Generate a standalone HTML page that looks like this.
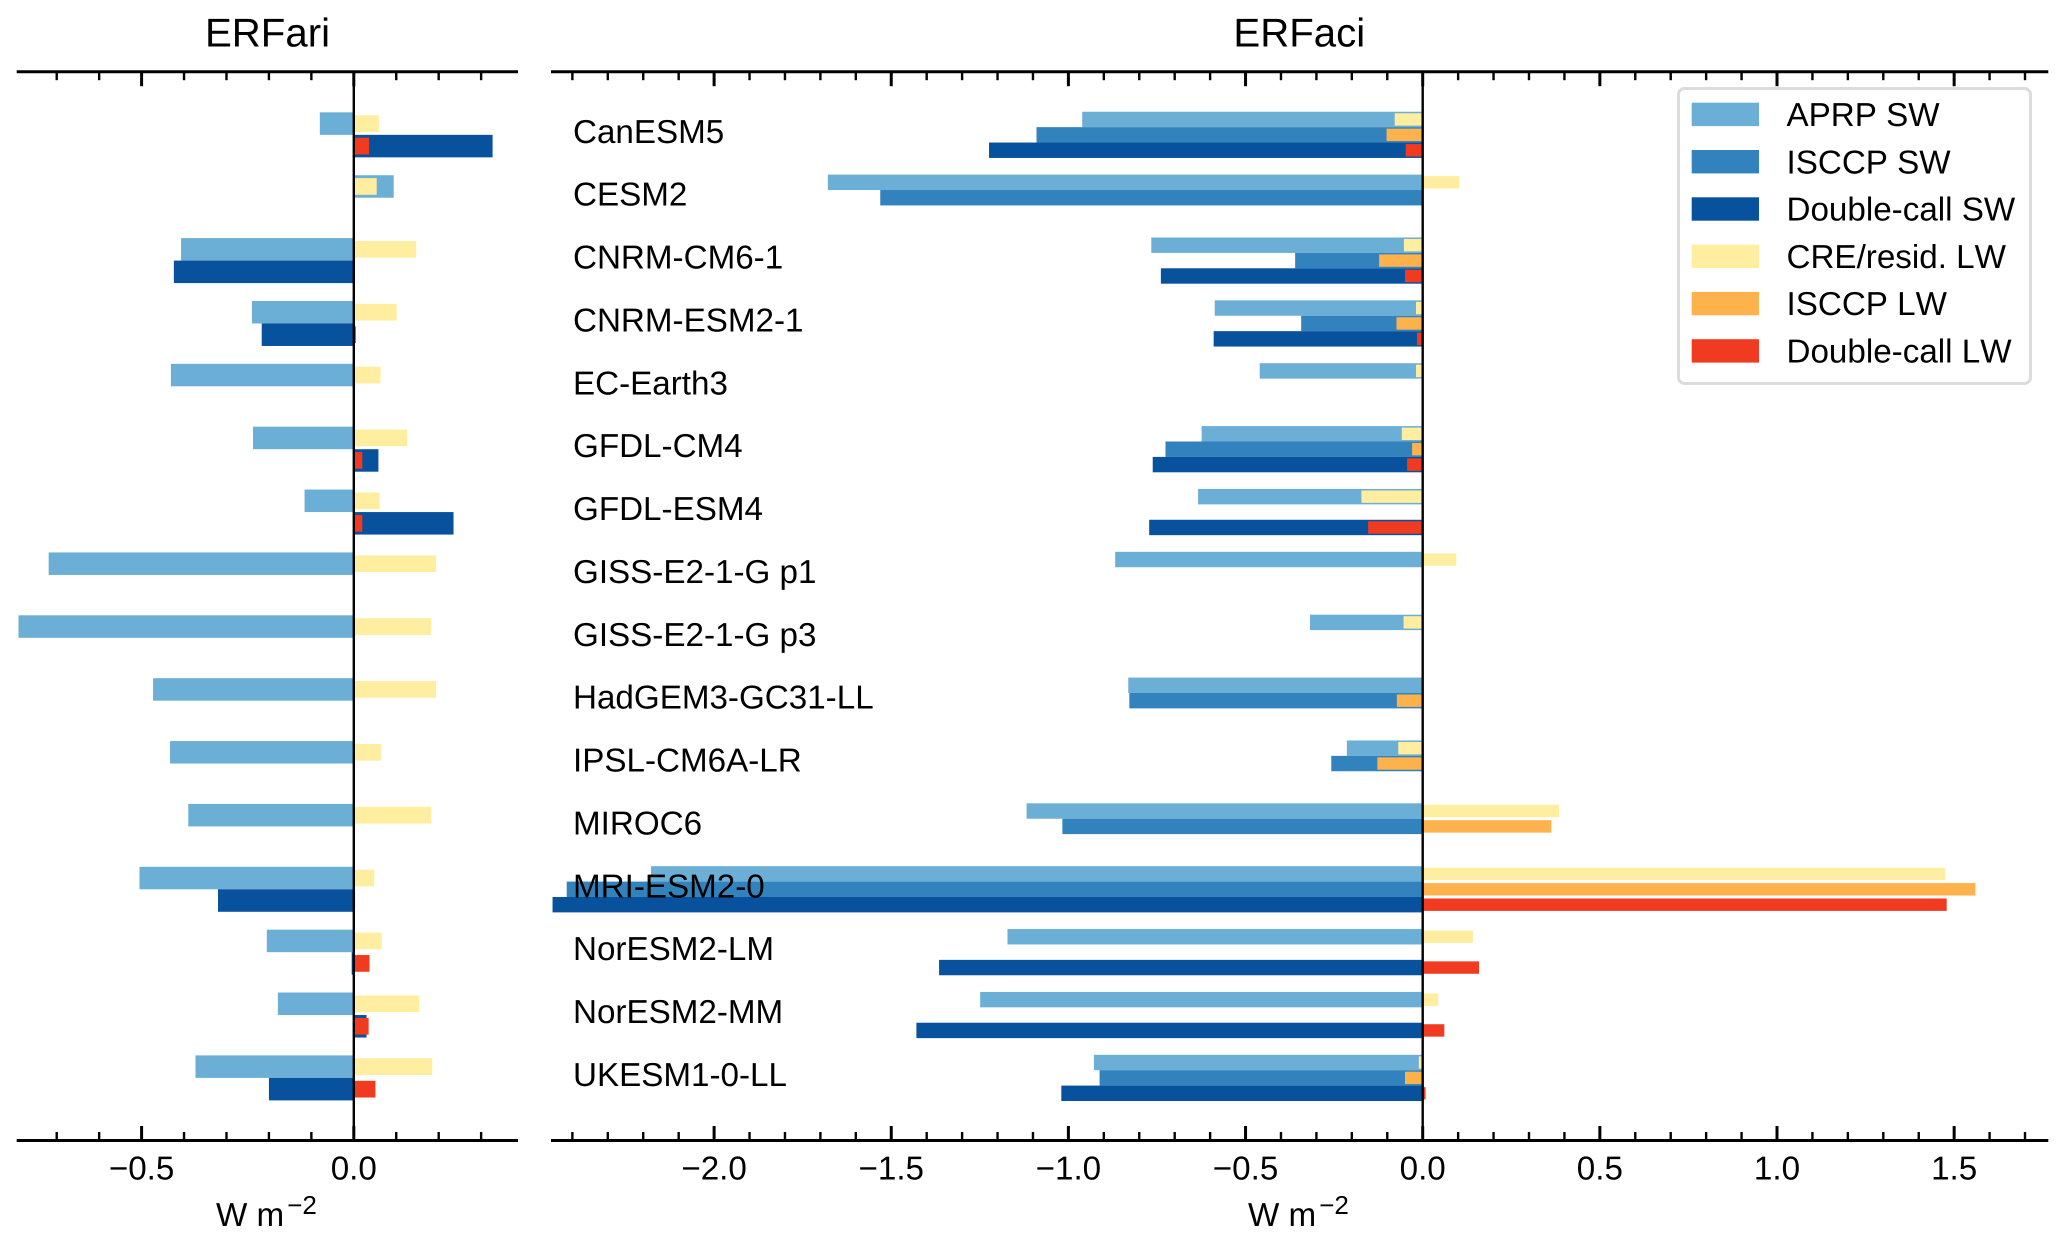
<!DOCTYPE html>
<html lang="en">
<head>
<meta charset="utf-8">
<title>ERFari and ERFaci by model</title>
<style>
html,body{margin:0;padding:0;background:#fff;}
svg{display:block;}
text{font-family:"Liberation Sans",Arial,sans-serif;fill:#000;text-rendering:geometricPrecision;font-kerning:none;}
</style>
</head>
<body>
<svg id="chart" xmlns="http://www.w3.org/2000/svg" width="2067" height="1244" viewBox="0 0 2067 1244">
  <rect x="0" y="0" width="2067" height="1244" fill="#fff"/>
  <g id="panel-ari"></g>
  <g id="panel-aci"></g>
  <text x="267.5" y="46.5" font-size="40.2" text-anchor="middle">ERFari</text>
  <text x="1299.3" y="46.5" font-size="40.2" text-anchor="middle">ERFaci</text>
  <text x="216" y="1226" font-size="33.2">W m<tspan font-size="26" dx="3" dy="-12">−2</tspan></text>
  <text x="1248" y="1226" font-size="33.2">W m<tspan font-size="26" dx="3" dy="-12">−2</tspan></text>
  <g>
    <rect x="1678.5" y="88.5" width="352" height="295" rx="6" ry="6" fill="#fff" stroke="#dcdcdc" stroke-width="3"/>
    <g>
      <rect x="1691.7" y="102.7" width="67.3" height="23.4" fill="#6BAED6"/>
      <text x="1786.5" y="126" font-size="33.2">APRP SW</text>
    </g>
    <g>
      <rect x="1691.7" y="150" width="67.3" height="23.4" fill="#3182BD"/>
      <text x="1786.5" y="173.3" font-size="33.2">ISCCP SW</text>
    </g>
    <g>
      <rect x="1691.7" y="197.3" width="67.3" height="23.4" fill="#08519C"/>
      <text x="1786.5" y="220.6" font-size="33.2">Double-call SW</text>
    </g>
    <g>
      <rect x="1691.7" y="244.6" width="67.3" height="23.4" fill="#FFEDA0"/>
      <text x="1786.5" y="267.9" font-size="33.2">CRE/resid. LW</text>
    </g>
    <g>
      <rect x="1691.7" y="291.9" width="67.3" height="23.4" fill="#FEB24C"/>
      <text x="1786.5" y="315.2" font-size="33.2">ISCCP LW</text>
    </g>
    <g>
      <rect x="1691.7" y="339.2" width="67.3" height="23.4" fill="#F03B20"/>
      <text x="1786.5" y="362.5" font-size="33.2">Double-call LW</text>
    </g>
  </g>
</svg>
<script>
const models = ["CanESM5","CESM2","CNRM-CM6-1","CNRM-ESM2-1","EC-Earth3","GFDL-CM4","GFDL-ESM4","GISS-E2-1-G p1","GISS-E2-1-G p3","HadGEM3-GC31-LL","IPSL-CM6A-LR","MIROC6","MRI-ESM2-0","NorESM2-LM","NorESM2-MM","UKESM1-0-LL"];

const ariAprpSw = [-0.08,0.094,-0.407,-0.24,-0.431,-0.2375,-0.116,-0.719,-0.79,-0.473,-0.433,-0.39,-0.505,-0.205,-0.179,-0.373];
const ariDoubleSw = [0.327,null,-0.424,-0.217,null,0.058,0.235,null,null,null,null,null,-0.32,-0.005,0.03,-0.2];
const ariCreLw = [0.059,0.054,0.147,0.101,0.063,0.126,0.061,0.194,0.182,0.194,0.064,0.182,0.048,0.066,0.154,0.185];
const ariDoubleLw = [0.036,null,null,0.005,null,0.02,0.02,null,null,null,null,null,0.003,0.037,0.035,0.051];

const aciAprpSw = [-0.961,-1.679,-0.766,-0.587,-0.46,-0.624,-0.634,-0.868,-0.318,-0.831,-0.214,-1.118,-2.178,-1.172,-1.249,-0.928];
const aciIsccpSw = [-1.09,-1.531,-0.36,-0.343,null,-0.726,null,null,null,-0.828,-0.258,-1.017,-2.416,null,null,-0.912];
const aciDoubleSw = [-1.224,null,-0.739,-0.59,null,-0.762,-0.772,null,null,null,null,null,-2.456,-1.365,-1.429,-1.02];
const aciCreLw = [-0.079,0.104,-0.053,-0.019,-0.019,-0.059,-0.173,0.095,-0.054,null,-0.069,0.385,1.475,0.142,0.044,-0.011];
const aciIsccpLw = [-0.102,null,-0.123,-0.074,null,-0.03,null,null,null,-0.073,-0.128,0.363,1.56,null,null,-0.05];
const aciDoubleLw = [-0.048,null,-0.05,-0.016,null,-0.044,-0.154,null,null,null,null,null,1.479,0.159,0.061,0.008];

const ariMajorTicks = [-0.5,0];
const ariMinorTicks = [-0.7,-0.6,-0.4,-0.3,-0.2,-0.1,0.1,0.2,0.3];
const aciMajorTicks = [-2,-1.5,-1,-0.5,0,0.5,1,1.5];
const aciMinorTicks = [-2.4,-2.3,-2.2,-2.1,-1.9,-1.8,-1.7,-1.6,-1.4,-1.3,-1.2,-1.1,-0.9,-0.8,-0.7,-0.6,-0.4,-0.3,-0.2,-0.1,0.1,0.2,0.3,0.4,0.6,0.7,0.8,0.9,1.1,1.2,1.3,1.4,1.6,1.7];

const NS = "http://www.w3.org/2000/svg";
const TOP = 71.7, BOTTOM = 1140.5;
const xAri = v => 353.8 + v * 424.4;
const xAci = v => 1422.7 + v * 354.3;
const groupCenter = i => 134.85 + i * 62.87;

function make(parent, tag, attrs) {
  const el = document.createElementNS(NS, tag);
  for (const k in attrs) el.setAttribute(k, attrs[k]);
  parent.appendChild(el);
  return el;
}

function drawSeries(parent, values, xScale, row, rowHeight, rowCount, barHeight, color, seriesName) {
  const g = make(parent, "g", {});
  
  
  const groupTop = -rowCount * rowHeight / 2;
  values.forEach((v, i) => {
    if (v === null) return;
    const x0 = xScale(0), x1 = xScale(v);
    const y = groupCenter(i) + groupTop + row * rowHeight + (rowHeight - barHeight) / 2;
    const bar = make(g, "rect", {x: Math.min(x0, x1), y: y, width: Math.abs(x1 - x0), height: barHeight, fill: color});
    
    
  });
}

function fmt(v) {
  return (v < 0 ? "\u2212" : "") + Math.abs(v).toFixed(1);
}

function drawAxis(parent, xScale, xStart, xEnd, majors, minors, axisName) {
  const zero = make(parent, "line", {x1: xScale(0), x2: xScale(0), y1: TOP, y2: BOTTOM, stroke: "#000", "stroke-width": 2.4});
  
  
  [TOP, BOTTOM].forEach((y, side) => {
    const sideName = side === 0 ? 'top' : 'bottom';
    const dir = side === 0 ? 1 : -1;
    const spine = make(parent, "line", {x1: xStart, x2: xEnd, y1: y, y2: y, stroke: "#000", "stroke-width": 3});
    
    
    minors.forEach(v => {
      const t = make(parent, "line", {x1: xScale(v), x2: xScale(v), y1: y, y2: y + dir * 8.5, stroke: "#000", "stroke-width": 2.4});
      
      
    });
    majors.forEach(v => {
      const t = make(parent, "line", {x1: xScale(v), x2: xScale(v), y1: y, y2: y + dir * 14.5, stroke: "#000", "stroke-width": 3});
      
      
    });
  });
  majors.forEach(v => {
    const lab = make(parent, "text", {x: xScale(v), y: 1179.5, "font-size": 33.2, "text-anchor": "middle"});
    lab.textContent = fmt(v);
    
    
  });
}

const ari = document.getElementById("panel-ari");
drawSeries(ari, ariAprpSw, xAri, 0, 22.5, 2, 22.5, "#6BAED6", "ari-aprp-sw");
drawSeries(ari, ariDoubleSw, xAri, 1, 22.5, 2, 22.5, "#08519C", "ari-double-call-sw");
drawSeries(ari, ariCreLw, xAri, 0, 22.5, 2, 16.7, "#FFEDA0", "ari-cre-resid-lw");
drawSeries(ari, ariDoubleLw, xAri, 1, 22.5, 2, 16.7, "#F03B20", "ari-double-call-lw");
drawAxis(ari, xAri, 16.7, 518, ariMajorTicks, ariMinorTicks, "erfari-x-axis");

const aci = document.getElementById("panel-aci");
drawSeries(aci, aciAprpSw, xAci, 0, 15.4, 3, 15.4, "#6BAED6", "aci-aprp-sw");
drawSeries(aci, aciIsccpSw, xAci, 1, 15.4, 3, 15.4, "#3182BD", "aci-isccp-sw");
drawSeries(aci, aciDoubleSw, xAci, 2, 15.4, 3, 15.4, "#08519C", "aci-double-call-sw");
drawSeries(aci, aciCreLw, xAci, 0, 15.4, 3, 12.4, "#FFEDA0", "aci-cre-resid-lw");
drawSeries(aci, aciIsccpLw, xAci, 1, 15.4, 3, 12.4, "#FEB24C", "aci-isccp-lw");
drawSeries(aci, aciDoubleLw, xAci, 2, 15.4, 3, 12.4, "#F03B20", "aci-double-call-lw");
drawAxis(aci, xAci, 551, 2048.3, aciMajorTicks, aciMinorTicks, "erfaci-x-axis");

models.forEach((m, i) => {
  const t = make(aci, "text", {x: 573, y: groupCenter(i) + 8, "font-size": 33.2});
  t.textContent = m;
  
  
});
</script>
</body>
</html>
